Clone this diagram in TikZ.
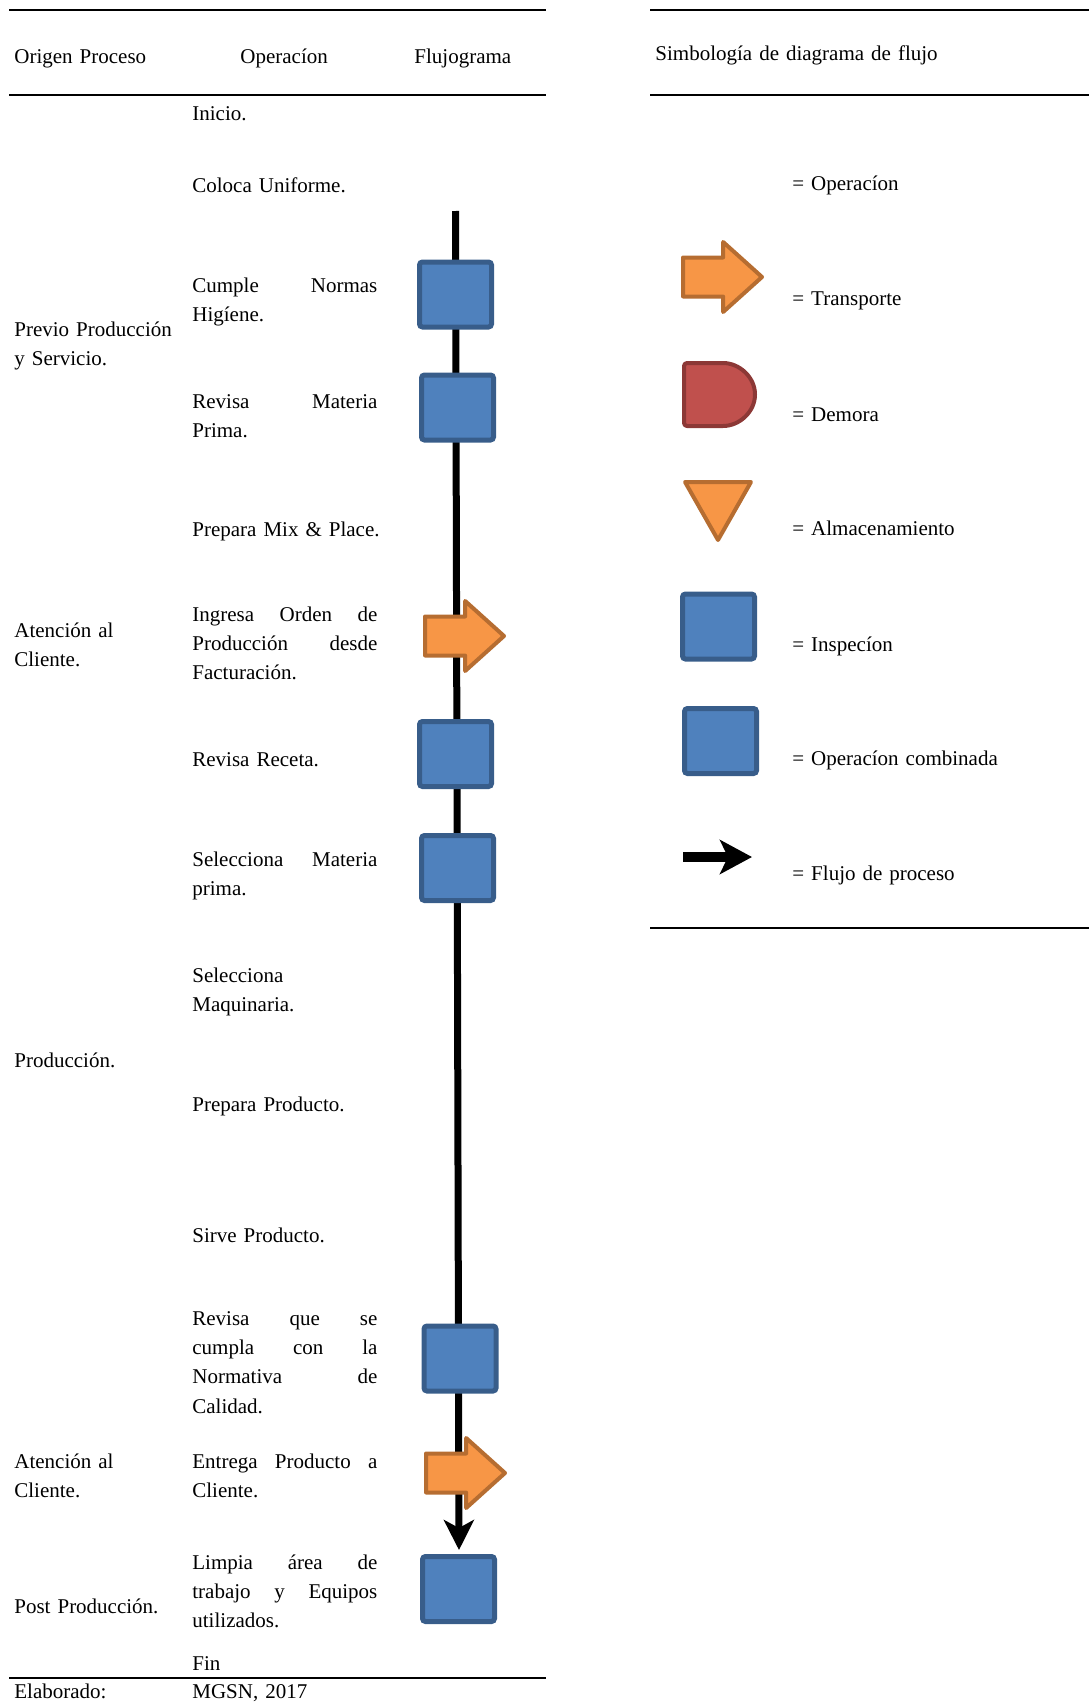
\documentclass[tikz,border=0pt]{standalone}
\usepackage{fontspec}
\setmainfont{Liberation Serif}
\usetikzlibrary{
    arrows.meta,
    shapes.arrows
}
\definecolor{inspfill}{HTML}{4F81BD}
\definecolor{inspdraw}{HTML}{385D8A}
\definecolor{transfill}{HTML}{F79646}
\definecolor{transdraw}{HTML}{B66D31}
\definecolor{demfill}{HTML}{C0504D}
\definecolor{demdraw}{HTML}{8C3836}
\newlength{\opw}
\setlength{\opw}{92.5pt}
\newcommand{\jline}[1]{\makebox[\opw][l]{#1}}
\tikzset{
    txt/.style={anchor=base west,inner sep=0pt,text width=150pt,align=left,
        font=\fontsize{10.5}{14.7}\selectfont},
    rule/.style={line width=1pt},
    inspbox/.style={draw=inspdraw,fill=inspfill,line width=2.5pt,
        rounded corners=1.5pt,minimum width=36pt,minimum height=32.5pt,inner sep=0pt},
    transarrow/.style={single arrow,draw=transdraw,fill=transfill,line width=2pt,
        line join=round,inner xsep=0pt,inner ysep=8.75pt,anchor=tail,
        single arrow head extend=7.75pt,single arrow tip angle=84,
        minimum height=39.5pt,minimum width=0pt},
    delayshape/.style={draw=demdraw,fill=demfill,line width=2pt,line join=round},
    storeshape/.style={draw=transdraw,fill=transfill,line width=2pt,line join=round},
    flowline/.style={line width=3.5pt,-{Stealth[length=15pt,width=15pt,inset=4pt]}}
}
\begin{document}
\begin{tikzpicture}[x=0.5pt,y=-0.5pt]
\useasboundingbox (0,0) rectangle (1089,1702);
%\draw [help lines,step=100](0,0) grid (1089,1702);
% table rules
\draw [rule] (9,10) -- (546,10);
\draw [rule] (9,95) -- (546,95);
\draw [rule] (9,1678) -- (546,1678);
\draw [rule] (650,10) -- (1089,10);
\draw [rule] (650,95) -- (1089,95);
\draw [rule] (650,928) -- (1089,928);
% headers
\node [txt] (hdrorigen) at (14,64) {Origen Proceso};
\node [txt] (hdroper) at (240,64) {Operacíon};
\node [txt] (hdrflujo) at (414,64) {Flujograma};
\node [txt] (hdrsimb) at (655,61) {Simbología de diagrama de flujo};
% origen
\node [txt] (orgprevio) at (14,336) {Previo Producción\\y Servicio.};
\node [txt] (orgatencion) at (14,637) {Atención al\\Cliente.};
\node [txt] (orgproduccion) at (14,1067) {Producción.};
\node [txt] (orgentrega) at (14,1468) {Atención al\\Cliente.};
\node [txt] (orgpost) at (14,1613) {Post Producción.};
% operaciones
\node [txt] (opinicio) at (192,120) {Inicio.};
\node [txt] (opuniforme) at (192,192) {Coloca Uniforme.};
\node [txt] (ophigiene) at (192,292) {\jline{Cumple\hfill Normas}\\Higíene.};
\node [txt] (opmateria) at (192,408) {\jline{Revisa\hfill Materia}\\Prima.};
\node [txt] (opmix) at (192,536) {Prepara Mix \& Place.};
\node [txt] (oporden) at (192,621) {\jline{Ingresa\hfill Orden\hfill de}\\\jline{Producción\hfill desde}\\Facturación.};
\node [txt] (opreceta) at (192,766) {Revisa Receta.};
\node [txt] (opselmat) at (192,866) {\jline{Selecciona\hfill Materia}\\prima.};
\node [txt] (opselmaq) at (192,982) {Selecciona\\Maquinaria.};
\node [txt] (opprepara) at (192,1111) {Prepara Producto.};
\node [txt] (opsirve) at (192,1242) {Sirve Producto.};
\node [txt] (opcalidad) at (192,1325) {\jline{Revisa\hfill que\hfill se}\\\jline{cumpla\hfill con\hfill la}\\\jline{Normativa\hfill de}\\Calidad.};
\node [txt] (opentrega) at (192,1468) {\jline{Entrega\hfill Producto\hfill a}\\Cliente.};
\node [txt] (oplimpia) at (192,1569) {\jline{Limpia\hfill área\hfill de}\\\jline{trabajo\hfill y\hfill Equipos}\\utilizados.};
\node [txt] (opfin) at (192,1670) {Fin};
% pie
\node [txt] (elaborado) at (14,1698) {Elaborado:};
\node [txt] (autor) at (192,1698) {MGSN, 2017};
% flujograma
\coordinate (flowtop) at (455.5,211);
\coordinate (flowend) at (459,1550);
\draw [flowline] (flowtop) -- (flowend);
\node [inspbox] (insp1) at (455.5,294.5) {};
\node [inspbox] (insp2) at (457.5,407.5) {};
\node [transarrow] (trans1) at (423,636) {};
\node [inspbox] (insp3) at (455.5,754) {};
\node [inspbox] (insp4) at (457.5,868) {};
\node [inspbox] (insp5) at (460,1358.5) {};
\node [transarrow] (trans2) at (424,1473) {};
\node [inspbox] (insp6) at (458.5,1589) {};
% simbologia
\node [transarrow] (legtrans) at (681,277) {};
\draw [delayshape,rounded corners=1.5pt] (684,363) -- (720,363)
    arc [start angle=90,end angle=-90,x radius=17.5pt,y radius=15.75pt] -- (684,426) -- cycle;
\draw [storeshape] (685,482) -- (751,482) -- (718,540) -- cycle;
\node [inspbox] (leginsp) at (718.5,626.5) {};
\node [inspbox] (legcomb) at (720.5,741) {};
\coordinate (legflowa) at (683,857);
\coordinate (legflowb) at (752,857);
\draw [line width=5pt,-{Stealth[length=16pt,width=17pt,inset=4pt]}] (legflowa) -- (legflowb);
\node [txt] (lbloper) at (792,191) {= Operacíon};
\node [txt] (lbltrans) at (792,305) {= Transporte};
\node [txt] (lbldemora) at (792,421) {= Demora};
\node [txt] (lblalmac) at (792,535) {= Almacenamiento};
\node [txt] (lblinsp) at (792,651) {= Inspecíon};
\node [txt] (lblcomb) at (792,765) {= Operacíon combinada};
\node [txt] (lblflujo) at (792,880) {= Flujo de proceso};
\end{tikzpicture}
\end{document}
